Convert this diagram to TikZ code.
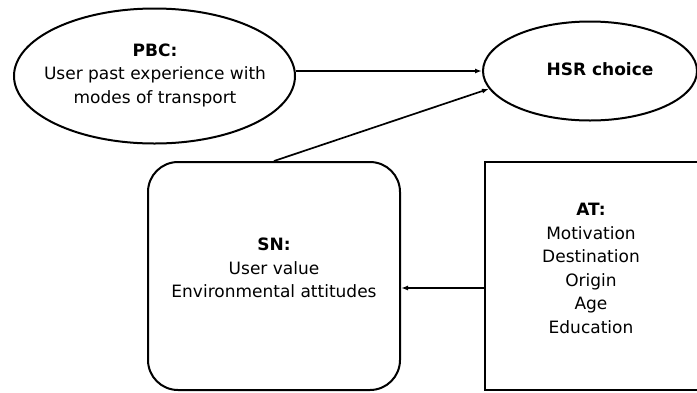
\documentclass[tikz,border=0pt]{standalone}
\usepackage{fontspec}
\setmainfont{DejaVu Sans}
\usetikzlibrary{shapes.geometric,arrows.meta,calc}
\begin{document}
\begin{tikzpicture}[x=1pt,y=-1pt,
  shapeline/.style={draw=black,line width=2pt},
  conn/.style={line width=1.7pt,-{Latex[length=7pt,width=5pt]}},
  txt/.style={align=center,font=\fontsize{17}{23.5}\selectfont,inner sep=0pt}]
\useasboundingbox (0,0) rectangle (697,392);
\clip (0,0) rectangle (697,392);
% shapes
\node[shapeline,ellipse,minimum width=281pt,minimum height=135pt,inner sep=0pt] (pbc) at (154.5,76) {};
\node[shapeline,ellipse,minimum width=214pt,minimum height=99pt,inner sep=0pt] (hsr) at (590,71) {};
\node[shapeline,rectangle,rounded corners=30pt,minimum width=252pt,minimum height=228pt,inner sep=0pt] (sn) at (274,276) {};
\node[shapeline,rectangle,minimum width=240pt,minimum height=228pt,inner sep=0pt,anchor=west] (at) at (483.5,276) {};
% texts
\node[txt] (pbctext) at (155,75) {\textbf{PBC:}\\User past experience with\\modes of transport};
\node[txt,font=\fontsize{17}{23.5}\selectfont\bfseries] (hsrtext) at (600,69) {HSR choice};
\node[txt] (sntext) at (274,268) {\textbf{SN:}\\User value\\Environmental attitudes};
\node[txt] (attext) at (591,268.5) {\textbf{AT:}\\Motivation\\Destination\\Origin\\Age\\Education};
% connectors
\draw[conn] (pbc.east |- hsr.west) -- (hsr.west);
\draw[conn] (sn.north) -- (hsr.190);
\coordinate (atout) at ($(at.west)+(0,12)$);
\draw[conn] (atout) -- (sn.east |- atout);
\end{tikzpicture}
\end{document}
